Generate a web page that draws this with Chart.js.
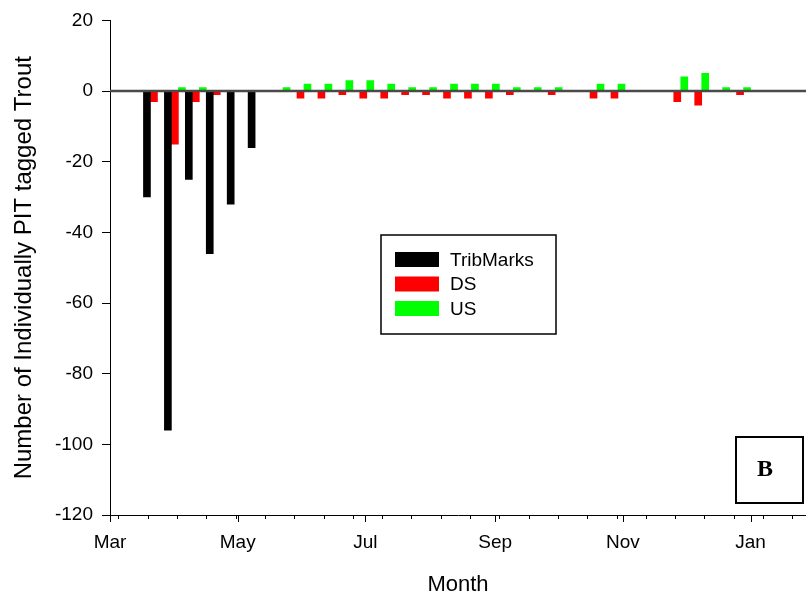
<!DOCTYPE html>
<html>
<head>
<meta charset="utf-8">
<script src="https://cdn.jsdelivr.net/npm/chart.js@4.4.1/dist/chart.umd.min.js"></script>
<style>
html, body { margin: 0; padding: 0; background: #fff; }
canvas { display: block; }
</style>
</head>
<body>
<canvas id="chart" width="806" height="597"></canvas>
<script>
// sampling dates, in days after Mar 1
const sampleDays = [21, 31, 41, 51, 61, 71, 81, 91, 101, 111, 121, 131, 141, 151, 161,
    171, 181, 191, 201, 211, 221, 231, 241, 251, 261, 271, 281, 291, 301];
const tribMarks = [-30, -96, -25, -46, -32, -16, 0, 0, 0, 0, 0, 0, 0, 0, 0,
    0, 0, 0, 0, 0, 0, 0, 0, 0, 0, 0, 0, 0, 0];
const dsMoves = [-3, -15, -3, -1, 0, 0, 0, -2, -2, -1, -2, -2, -1, -1, -2,
    -2, -2, -1, 0, -1, 0, -2, -2, 0, 0, -3, -4, 0, -1];
const usMoves = [0, 1, 1, 0, 0, 0, 1, 2, 2, 3, 3, 2, 1, 1, 2,
    2, 2, 1, 1, 1, 0, 2, 2, 0, 0, 4, 5, 1, 1];

const monthLabels = ["Mar", "May", "Jul", "Sep", "Nov", "Jan"];
const monthDays = [0, 61, 122, 184, 245, 306];
const minorTickDays = [4, 18, 32, 46, 60, 74, 88, 102, 116, 130, 144, 158, 172, 186,
    200, 214, 228, 242, 256, 270, 284, 298, 312, 326];

const sans = "'Liberation Sans', Arial, sans-serif";

const toPoints = (values) => sampleDays.map((d, i) => ({ x: d, y: values[i] }));

// zero line, x tick marks, legend and panel letter
const extras = {
    id: "extras",
    afterDatasetsDraw(chart) {
        const { ctx, chartArea, scales } = chart;
        const y0 = Math.round(scales.y.getPixelForValue(0));
        ctx.save();
        ctx.strokeStyle = "#4a4a4a";
        ctx.lineWidth = 2.5;
        ctx.beginPath();
        ctx.moveTo(chartArea.left, y0);
        ctx.lineTo(chartArea.right, y0);
        ctx.stroke();
        ctx.restore();
    },
    afterDraw(chart) {
        const { ctx, chartArea, scales } = chart;
        const x = scales.x;
        const bottom = chartArea.bottom;
        ctx.save();
        ctx.strokeStyle = "#000";
        ctx.lineWidth = 1;
        ctx.beginPath();
        minorTickDays.forEach(d => {
            const px = Math.round(x.getPixelForValue(d)) + 0.5;
            ctx.moveTo(px, bottom);
            ctx.lineTo(px, bottom + 4);
        });
        monthDays.forEach(d => {
            const px = Math.round(x.getPixelForValue(d)) + 0.5;
            ctx.moveTo(px, bottom);
            ctx.lineTo(px, bottom + 7);
        });
        ctx.stroke();

        // legend
        ctx.lineWidth = 1.5;
        ctx.strokeRect(381, 235, 175, 99);
        ctx.font = "19px " + sans;
        ctx.textBaseline = "middle";
        ctx.textAlign = "left";
        chart.data.datasets.forEach((ds, i) => {
            const cy = 259.5 + i * 24.5;
            ctx.fillStyle = ds.backgroundColor;
            ctx.fillRect(395, cy - 7.5, 44, 15);
            ctx.fillStyle = "#000";
            ctx.fillText(ds.label, 450, cy + 1);
        });

        // panel letter
        ctx.lineWidth = 2;
        ctx.strokeRect(736, 437, 67, 66);
        ctx.font = "bold 24px 'Liberation Serif', 'Times New Roman', serif";
        ctx.textAlign = "center";
        ctx.fillText("B", 765, 470);
        ctx.restore();
    }
};

new Chart(document.getElementById("chart"), {
    type: "bar",
    data: {
        datasets: [
            { label: "TribMarks", data: toPoints(tribMarks), backgroundColor: "#000000" },
            { label: "DS", data: toPoints(dsMoves), backgroundColor: "#ff0000" },
            { label: "US", data: toPoints(usMoves), backgroundColor: "#00ff00" }
        ]
    },
    options: {
        responsive: false,
        animation: false,
        datasets: { bar: { barThickness: 7, borderWidth: 0 } },
        layout: { padding: { top: 20, right: 0, bottom: 0, left: 0 } },
        plugins: { legend: { display: false }, tooltip: { enabled: false } },
        scales: {
            x: {
                type: "linear",
                min: 0,
                max: 332.5,
                offset: false,
                afterFit: (s) => { s.height = 82; },
                afterBuildTicks: (s) => { s.ticks = monthDays.map(v => ({ value: v })); },
                ticks: {
                    callback: (v, i) => monthLabels[i],
                    autoSkip: false,
                    maxRotation: 0,
                    padding: 16,
                    color: "#000",
                    font: { family: sans, size: 19 }
                },
                grid: { display: false, drawTicks: false },
                border: { display: true, color: "#000", width: 1 },
                title: {
                    display: true,
                    text: "Month",
                    color: "#000",
                    font: { family: sans, size: 22, lineHeight: 1 },
                    padding: { top: 0, bottom: 1 }
                }
            },
            y: {
                min: -120,
                max: 20,
                afterFit: (s) => { s.width = 110; },
                ticks: {
                    stepSize: 20,
                    padding: 9,
                    color: "#000",
                    font: { family: sans, size: 19 }
                },
                grid: { drawOnChartArea: false, tickLength: 8, color: "#000", tickColor: "#000" },
                border: { display: true, color: "#000", width: 1 },
                title: {
                    display: true,
                    text: "Number of Individually PIT tagged Trout",
                    color: "#000",
                    font: { family: sans, size: 24, lineHeight: 1.2 },
                    padding: { top: 10, bottom: 0 }
                }
            }
        }
    },
    plugins: [extras]
});
</script>
</body>
</html>
